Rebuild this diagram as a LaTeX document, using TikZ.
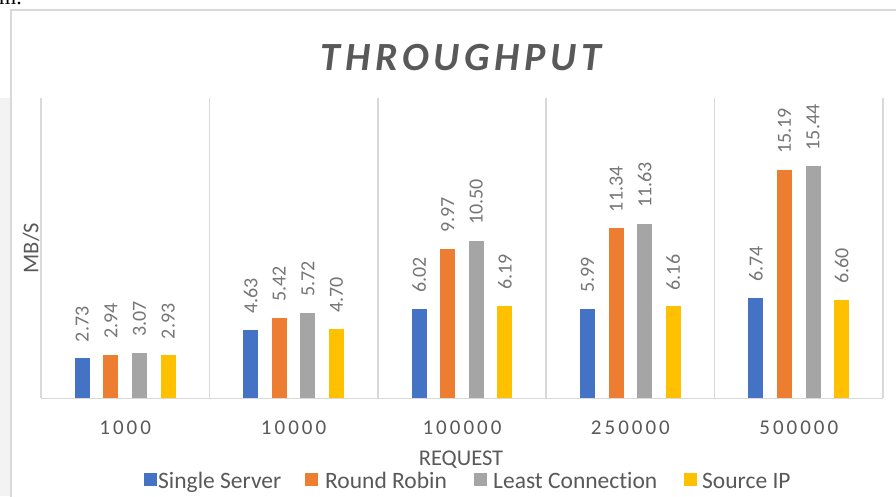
\documentclass[tikz,border=0pt]{standalone}
\usepackage{fontspec}
\setmainfont{Carlito}[RawFeature={-liga;-clig}]
\newfontfamily\fragfont{Liberation Serif}
\definecolor{serA}{HTML}{4472C4}
\definecolor{serB}{HTML}{ED7D31}
\definecolor{serC}{HTML}{A5A5A5}
\definecolor{serD}{HTML}{FFC000}
\definecolor{txtgray}{HTML}{595959}
\definecolor{lblgray}{HTML}{767676}
\definecolor{gridgray}{HTML}{D9D9D9}
\definecolor{stripgray}{HTML}{F3F3F3}
\makeatletter
\newcommand\lsp[2]{\def\lsp@k{#1}\edef\lsp@tmp{#2}\expandafter\lsp@loop\lsp@tmp\relax}
\def\lsp@loop#1{\ifx#1\relax\unkern\else#1\kern\lsp@k\relax\expandafter\lsp@loop\fi}
\makeatother
\begin{document}
\begin{tikzpicture}[x=1pt,y=-1pt,
  gridline/.style={draw=gridgray,line width=1.5pt},
  datalbl/.style={text=lblgray,inner sep=0pt,rotate=90,anchor=west,font=\fontsize{20}{22}\selectfont},
  catlbl/.style={text=txtgray,inner sep=0pt,anchor=base,font=\fontsize{21}{24}\selectfont},
  legtxt/.style={text=txtgray,inner sep=0pt,anchor=base west,font=\fontsize{23.5}{26}\selectfont},
  titlest/.style={text=txtgray,inner sep=0pt,anchor=base,font=\fontsize{40}{44}\selectfont\bfseries\itshape},
  axtitle/.style={text=txtgray,inner sep=0pt,font=\fontsize{22.5}{25}\selectfont}]
\useasboundingbox (0,0) rectangle (896,496);
\fill[white] (0,0) rectangle (896,496);
\fill[stripgray] (0,98) rectangle (10,496);
\draw[gridgray,line width=2pt] (11,497) -- (11,10) -- (897,10);
\node[inner sep=0pt,anchor=base west,font=\fragfont\fontsize{22}{24}\selectfont] (frag) at (-1,4.5) {m.};
% title
\node[titlest] (title) at (461,70) {\lsp{4.7pt}{THROUGHPUT}};
% grid
\foreach \i in {0,...,5}{
  \draw[gridline] ({41+168.4*\i},98) -- ({41+168.4*\i},398.3);
}
\draw[gridline] (41,398.3) -- (883,398.3);
% bars and labels
\foreach \vals [count=\ci] in {{2.73,2.94,3.07,2.93},{4.63,5.42,5.72,4.70},{6.02,9.97,10.50,6.19},{5.99,11.34,11.63,6.16},{6.74,15.19,15.44,6.60}}{
  \foreach \v [count=\si] in \vals {
    \pgfmathsetmacro\xc{41+168.4*(\ci-0.5)+28.6*(\si-2.5)}
    \pgfmathsetmacro\h{15.1*\v-1.2}
    \ifcase\si\or\def\sc{serA}\or\def\sc{serB}\or\def\sc{serC}\or\def\sc{serD}\fi
    \fill[\sc] ({\xc-7.5},398.3) rectangle ({\xc+7.5},{398.3-\h});
    \node[datalbl] (lbl-\ci-\si) at (\xc,{398.3-\h-16}) {\v};
  }
}
% category labels
\foreach \t [count=\ci] in {1000,10000,100000,250000,500000}{
  \node[catlbl] (cat-\ci) at ({41+168.4*(\ci-0.5)},434) {\lsp{3pt}{\t}};
}
% axis titles
\node[axtitle,rotate=90] (ytitle) at (31,248) {MB/S};
\node[axtitle,anchor=base] (xtitle) at (461,465) {REQUEST};
% legend
\fill[serA] (144,473) rectangle (157,486);
\node[legtxt] (leg1) at (158,488) {Single Server};
\fill[serB] (305,473) rectangle (318,486);
\node[legtxt] (leg2) at (325,488) {Round Robin};
\fill[serC] (474,473) rectangle (487,486);
\node[legtxt] (leg3) at (493,488) {Least Connection};
\fill[serD] (684,473) rectangle (697,486);
\node[legtxt] (leg4) at (702,488) {Source IP};
\end{tikzpicture}
\end{document}
